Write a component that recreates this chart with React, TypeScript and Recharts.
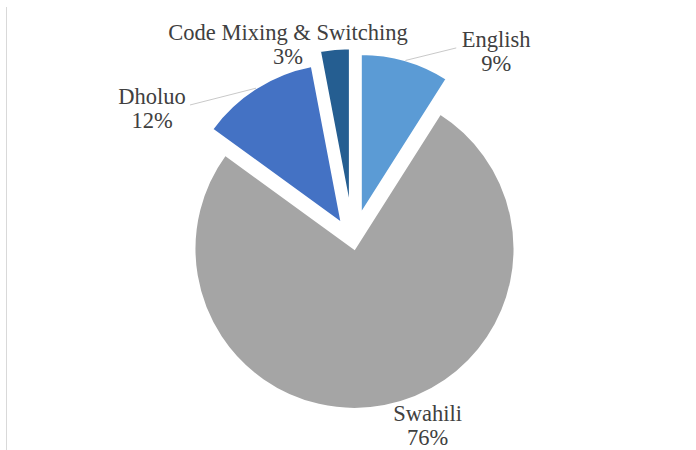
import { PieChart, Pie, Cell, Sector } from 'recharts';

const languages = ['English', 'Swahili', 'Dholuo', 'Code Mixing & Switching'];
const shares = [9, 76, 12, 3];
const colors = ['#5b9bd5', '#a5a5a5', '#4472c4', '#255e91'];

// how far each slice is pulled out from the pie centre (px)
const explode = [28, 8, 21, 33];
// where the label block sits: clockwise degrees from 12 o'clock, distance from pie centre
const labelAngle = [37, 158, 303.5, 341.7];
const labelDist = [238, 199, 241, 207];
// leader line end, horizontal offset from the label centre (0 = no leader)
const leaderEnd = [-40, 0, 38, 0];

const data = languages.map((name, i) => ({ name, value: shares[i] }));

const RAD = Math.PI / 180;
const FONT = '"Liberation Serif", "Times New Roman", serif';
const FONT_SIZE = 22.5;
const LINE_GAP = 24;

function sliceIndex(props: any) {
  const name = props.payload?.name ?? props.name;
  return languages.indexOf(name);
}

function ExplodedSlice(props: any) {
  const i = sliceIndex(props);
  const e = explode[i] ?? 0;
  const dx = e * Math.cos(-props.midAngle * RAD);
  const dy = e * Math.sin(-props.midAngle * RAD);
  return <Sector {...props} cx={props.cx + dx} cy={props.cy + dy} stroke="#fff" strokeWidth={2} />;
}

function renderLabel(props: any) {
  const { cx, cy, midAngle, outerRadius, value } = props;
  const i = sliceIndex(props);
  const lx = cx + labelDist[i] * Math.sin(labelAngle[i] * RAD);
  const ly = cy - labelDist[i] * Math.cos(labelAngle[i] * RAD);
  // baseline sits ~0.35em below the visual centre of a line
  const base = FONT_SIZE * 0.35;

  let leader = null;
  if (leaderEnd[i] !== 0) {
    const e = explode[i];
    const ax = cx + (e + outerRadius) * Math.cos(-midAngle * RAD);
    const ay = cy + (e + outerRadius) * Math.sin(-midAngle * RAD);
    leader = <line x1={ax} y1={ay} x2={lx + leaderEnd[i]} y2={ly - 3} stroke="#c9c9c9" strokeWidth={1} />;
  }

  return (
    <g key={`lbl-${i}`}>
      {leader}
      <text x={lx} y={ly} textAnchor="middle" fill="#404040" fontFamily={FONT} fontSize={FONT_SIZE}>
        <tspan x={lx} y={ly - LINE_GAP / 2 + base}>{languages[i]}</tspan>
        <tspan x={lx} y={ly + LINE_GAP / 2 + base}>{`${value}%`}</tspan>
      </text>
    </g>
  );
}

export default function App() {
  return (
    <div style={{ position: 'absolute', left: 0, top: 0, width: 696, height: 450, background: '#fff' }}>
      <div style={{ position: 'absolute', left: 6, top: 7, bottom: 0, width: 1, background: '#d9d9d9' }} />
      <PieChart width={696} height={450}>
        <Pie
          data={data}
          dataKey="value"
          nameKey="name"
          cx={348}
          cy={236}
          outerRadius={160}
          startAngle={90}
          endAngle={-270}
          shape={ExplodedSlice}
          label={renderLabel}
          labelLine={false}
          isAnimationActive={false}
        >
          {data.map((d, i) => (
            <Cell key={d.name} fill={colors[i]} />
          ))}
        </Pie>
      </PieChart>
    </div>
  );
}
